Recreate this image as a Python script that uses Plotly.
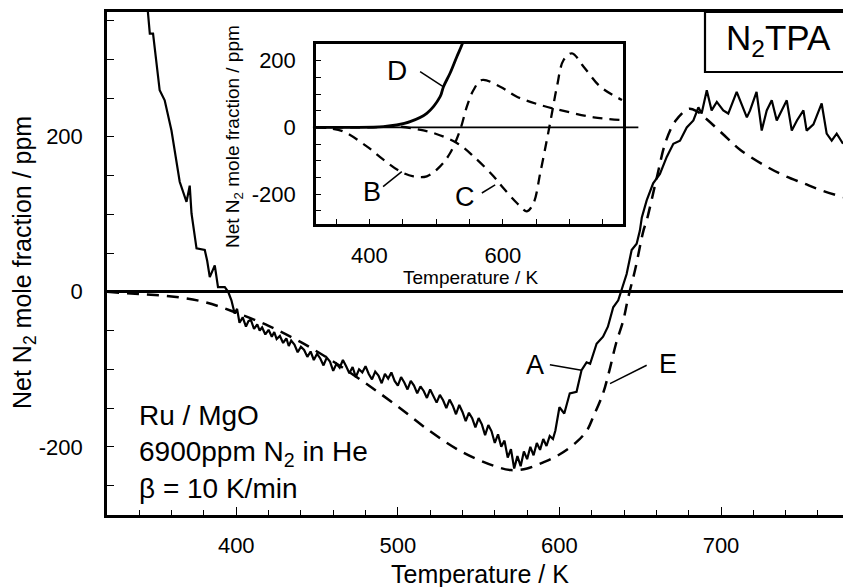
import plotly.graph_objects as go

# ---------------- data ----------------
# Main panel, curve A (experiment, solid)
A_T = [344.5, 346.5, 348.5, 352.6, 355.7, 359.9, 365.0, 369.2, 371.2, 372.3, 375.4, 380.5, 382.0,
       383.6, 386.7, 388.7, 392.9, 395.0, 397.0,
       399, 400.5, 402, 404, 406, 407.5, 409, 411, 413, 414.5, 416, 418, 420, 422, 423.5, 425, 427,
       429, 431, 432.5, 434, 436, 438, 440, 442, 444, 446, 448, 450, 452, 454, 456, 458, 460, 462,
       464, 466, 468, 470, 472, 474, 476, 478, 480, 482, 484, 486, 488, 490, 492, 494, 496, 498,
       500, 502, 504, 506, 508, 510, 512, 514, 516, 518, 520, 522, 524, 526, 528, 530, 532, 534,
       536, 538, 540, 542, 544, 546, 548, 550, 552, 554, 556, 558, 560, 562, 564, 566, 568, 570,
       572, 574, 576, 578, 580, 582, 584, 586, 588, 590, 592, 594, 596, 597.5,
       600, 603, 606.4, 610.6, 613.7, 616.8, 619, 623, 627, 630, 633.3, 636.4, 638.5, 641.6,
       644.7, 647.8, 649.8, 651, 654, 658, 662.2, 666.4, 670.5, 674.6, 678.8, 682.9, 686, 688,
       691.2, 694.2, 697.4, 701.4, 704.5, 709.7, 716, 718, 722, 725.2, 728.3, 731.4, 734.5,
       737.6, 740.7, 743.8, 747, 751, 753, 757.2, 762.3, 765.4, 768.5, 771.6, 775.5]
A_v = [380, 333, 333, 260, 247, 208, 142, 116, 137, 101, 56, 54, 40,
       19, 34, 6, 6, 0, -11,
       -28, -22, -40, -33, -45, -38, -36, -48, -42, -50, -46, -55, -49, -58, -52, -61, -57,
       -66, -60, -70, -63, -68, -78, -71, -75, -84, -77, -88, -80, -86, -95, -85, -90, -102, -93,
       -98, -88, -96, -105, -97, -110, -100, -104, -96, -106, -113, -103, -108, -118, -106, -112, -104, -115,
       -121, -110, -117, -126, -115, -121, -131, -122, -128, -137, -126, -134, -143, -133, -140, -150, -139, -147,
       -158, -146, -155, -167, -156, -163, -175, -163, -171, -185, -172, -180, -195, -184, -200, -192, -214, -203,
       -228, -212, -225, -206, -216, -200, -211, -195, -204, -190, -199, -186, -190, -179,
       -149, -157, -131, -129, -101, -91, -93, -67, -58, -45, -20, -11, 2, 23,
       54, 62, 79, 96, 118, 140, 152, 174, 191, 195, 212, 221, 238, 230,
       260, 234, 245, 234, 230, 258, 225, 234, 258, 208, 234, 247, 221,
       234, 247, 208, 221, 234, 208, 216, 243, 204, 195, 204, 191]

# Main panel, curve E (simulation, dashed)
E_T = [320, 340, 360, 380, 400, 420, 440, 460, 480, 500, 520, 540, 560, 570, 580, 590, 600, 610,
       617, 621, 627, 631, 635, 639.5, 642.6, 646.8, 652, 654, 660, 666, 672, 680, 685, 691, 704,
       712, 727, 739, 751, 762, 775.5]
E_v = [0, -3, -6, -13, -27, -44, -65, -90, -118, -148, -180, -207, -225, -230, -228, -220, -210, -195,
       -179, -161, -131, -101, -67, -37, -7, 28, 79, 92, 145, 195, 221, 236, 233, 223, 198,
       183, 163, 150, 140, 131, 122]

# Inset curves
B_T = [320, 340, 361, 396, 421, 446, 466, 486, 506, 521, 536, 546, 556, 568.5, 596, 621, 656, 696, 736, 776]
B_v = [0, -3, -12.5, -57, -97, -132, -147, -147, -117, -77, -7.5, 62, 112, 142, 122, 92, 67, 47, 30, 22]

C_T = [320, 400, 446, 470, 496, 531, 556, 586, 601, 621, 636, 646, 656, 666, 673.5, 681, 691, 703.5,
       721, 746, 778.5]
C_v = [0, 0, 2, -5, -17, -47, -87, -147, -183, -227, -252, -227, -137, -37, 42, 122, 202, 222,
       182, 122, 82]

D_T = [320, 380, 421, 441, 461, 486, 506, 511, 521, 531, 539.5, 545]
D_v = [0, 0, 2.4, 7, 17, 42, 92, 122, 163, 212, 252, 290]

main_xticks = [400, 500, 600, 700]
main_yticks = [-200, 0, 200]
main_yticklabels = ["-200", "0", "200"]
inset_xticks = [400, 600]
inset_yticks = [-200, 0, 200]
inset_yticklabels = ["-200", "0", "200"]

FONT = "Liberation Sans, Arial, Helvetica, sans-serif"
BLACK = "black"

fig = go.Figure()
fig.add_trace(go.Scatter(x=E_T, y=E_v, mode="lines", line=dict(color=BLACK, width=2.5, dash="12px,8px"),
                         line_shape="spline", xaxis="x", yaxis="y", showlegend=False))
fig.add_trace(go.Scatter(x=A_T, y=A_v, mode="lines", line=dict(color=BLACK, width=2.2),
                         xaxis="x", yaxis="y", showlegend=False))
fig.add_trace(go.Scatter(x=B_T, y=B_v, mode="lines", line=dict(color=BLACK, width=2.3, dash="10px,7px"),
                         line_shape="spline", xaxis="x2", yaxis="y2", showlegend=False))
fig.add_trace(go.Scatter(x=C_T, y=C_v, mode="lines", line=dict(color=BLACK, width=2.3, dash="10px,7px"),
                         line_shape="spline", xaxis="x2", yaxis="y2", showlegend=False))
fig.add_trace(go.Scatter(x=D_T, y=D_v, mode="lines", line=dict(color=BLACK, width=2.8),
                         line_shape="spline", xaxis="x2", yaxis="y2", showlegend=False))

W, H = 843, 587
ML, MR, MT, MB = 107, 0, 12, 72
PW, PH = W - ML - MR, H - MT - MB


def px(xp):
    return (xp - ML) / PW


def py(yp):
    return 1 - (yp - MT) / PH


tickfont = dict(family=FONT, size=22, color=BLACK)
fig.update_layout(
    width=W, height=H, margin=dict(l=ML, r=MR, t=MT, b=MB, pad=0),
    paper_bgcolor="white", plot_bgcolor="white", font=dict(family=FONT, color=BLACK),
    xaxis=dict(domain=[0, 1], range=[320, 775.5], showline=True, linewidth=2.5, linecolor=BLACK,
               mirror=True, ticks="inside", tickmode="array", tickvals=main_xticks, ticklen=8, tickwidth=1.3,
               tickcolor=BLACK, tickfont=tickfont, showgrid=False, zeroline=False, ticklabelstandoff=9,
               minor=dict(tickmode="linear", tick0=0, dtick=20, ticks="inside", ticklen=5, tickwidth=1.2,
                          tickcolor=BLACK, showgrid=False)),
    yaxis=dict(domain=[0, 1], range=[-288, 361], showline=True, linewidth=2.5, linecolor=BLACK,
               ticks="inside", tickmode="array", tickvals=main_yticks, ticktext=main_yticklabels,
               ticklen=7, tickwidth=1.3, tickcolor=BLACK, tickfont=tickfont, showgrid=False,
               zeroline=True, zerolinewidth=2.5, zerolinecolor=BLACK, ticklabelstandoff=17,
               minor=dict(tickmode="linear", tick0=0, dtick=50, ticks="inside", ticklen=7, tickwidth=1.2,
                          tickcolor=BLACK, showgrid=False)),
    xaxis2=dict(domain=[px(316), px(623)], anchor="y2", range=[320, 780], showline=True, linewidth=2.5,
                linecolor=BLACK, mirror=True, ticks="inside", tickmode="array", tickvals=inset_xticks,
                ticklen=5, tickwidth=1.2, tickcolor=BLACK, tickfont=tickfont, showgrid=False, zeroline=False,
                ticklabelstandoff=10,
                minor=dict(tickmode="linear", tick0=0, dtick=50, ticks="inside", ticklen=5, tickwidth=1.2,
                           tickcolor=BLACK, showgrid=False)),
    yaxis2=dict(domain=[py(224), py(44)], anchor="x2", range=[-290, 250], showline=True, linewidth=2.5,
                linecolor=BLACK, mirror=True, ticks="inside", tickmode="array", tickvals=inset_yticks,
                ticktext=inset_yticklabels, ticklen=5, tickwidth=1.2, tickcolor=BLACK, tickfont=tickfont,
                showgrid=False, zeroline=False, ticklabelstandoff=13,
                minor=dict(tickmode="linear", tick0=0, dtick=50, ticks="inside", ticklen=5, tickwidth=1.2,
                           tickcolor=BLACK, showgrid=False)),
)

shapes = [
    # inset zero line (extends slightly past the frame)
    dict(type="line", xref="x2 domain", yref="y2", x0=-0.01, x1=1.05, y0=0, y1=0,
         line=dict(color=BLACK, width=1.6)),
    # N2TPA box
    dict(type="rect", xref="paper", yref="paper", x0=px(705), x1=px(860), y0=py(72), y1=py(12),
         line=dict(color=BLACK, width=2.2), fillcolor="white", layer="above"),
    # leader lines, inset
    dict(type="line", xref="x2", yref="y2", x0=476, y0=167, x1=510.5, y1=122, line=dict(color=BLACK, width=1.5)),
    dict(type="line", xref="x2", yref="y2", x0=420.5, y0=-178, x1=448.5, y1=-133, line=dict(color=BLACK, width=1.5)),
    dict(type="line", xref="x2", yref="y2", x0=568.5, y0=-197, x1=588.5, y1=-172.5, line=dict(color=BLACK, width=1.5)),
    # leader lines, main
    dict(type="line", xref="x", yref="y", x0=594.1, y0=-94, x1=613.7, y1=-101.3, line=dict(color=BLACK, width=1.5)),
    dict(type="line", xref="x", yref="y", x0=654, y0=-94.8, x1=631.3, y1=-118.5, line=dict(color=BLACK, width=1.5)),
]
fig.update_layout(shapes=shapes)

ann = []


def text(x, y, s, size, xanchor="center", yanchor="middle", angle=0, align="center"):
    ann.append(dict(xref="paper", yref="paper", x=px(x), y=py(y), text=s, showarrow=False,
                    font=dict(family=FONT, size=size, color=BLACK), xanchor=xanchor, yanchor=yanchor,
                    textangle=angle, align=align))


text(480, 574, "Temperature / K", 25)
text(24, 263, "Net N<sub>2</sub> mole fraction / ppm", 25, angle=-90)
text(470, 277, "Temperature / K", 19)
text(234, 137, "Net N<sub>2</sub> mole fraction / ppm", 19, angle=-90)
text(137, 452, "Ru / MgO<br>6900ppm N<sub>2</sub> in He<br>β = 10 K/min", 28, xanchor="left", align="left")
text(778, 40, "N<sub>2</sub>TPA", 35)
text(397, 70, "D", 28)
text(372, 192, "B", 27)
text(465, 197, "C", 27)
text(535, 365, "A", 27)
text(668, 364, "E", 27)
fig.update_layout(annotations=ann)

fig.write_html("out.html")
